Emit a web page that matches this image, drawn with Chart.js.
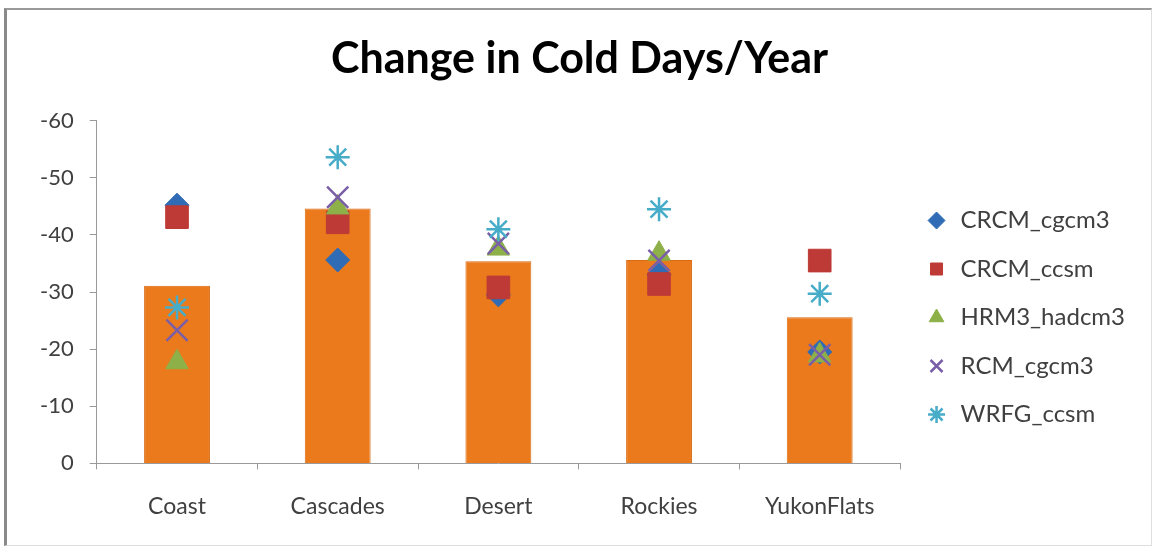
<!DOCTYPE html>
<html>
<head>
<meta charset="utf-8">
<script src="https://cdn.jsdelivr.net/npm/chart.js@4"></script>
<style>
  body { margin: 0; background: #fff; }
  #frame {
    position: absolute; left: 4px; top: 8px; width: 1144px; height: 535px;
    border-left: 3px solid #8a8a8a; border-top: 2px solid #9a9a9a;
    border-right: 1px solid #dedede; border-bottom: 1px solid #dedede;
    background: #fff;
  }
</style>
</head>
<body>
<div id="frame"><canvas id="chart"></canvas></div>
<script>
const regions = ['Coast', 'Cascades', 'Desert', 'Rockies', 'YukonFlats'];
const average = [-31.1, -44.6, -35.4, -35.6, -25.6];
const crcmCgcm3 = [-45.2, -35.6, -29.5, -33, -19.5];
const crcmCcsm = [-43.1, -42.2, -30.8, -31.4, -35.5];
const hrm3Hadcm3 = [-17.7, -44.8, -37.6, -36.7, -18.9];
const rcmCgcm3 = [-23.3, -46.6, -38.5, -35.5, -19];
const wrfgCcsm = [-27.3, -53.6, -41, -44.5, -29.7];

function marker(label, data, style, color, r, order) {
  return {
    type: 'line', label, data, showLine: false, order,
    pointStyle: style, pointRadius: r, pointHoverRadius: r,
    backgroundColor: color, borderColor: color,
    pointBorderWidth: (style === 'crossRot' || style === 'star') ? 2.5 : 1
  };
}

new Chart(document.getElementById('chart'), {
  type: 'bar',
  data: {
    labels: regions,
    datasets: [
      marker('CRCM_cgcm3', crcmCgcm3, 'rectRot', '#2f6cb5', 12, 5),
      marker('CRCM_ccsm', crcmCcsm, 'rect', '#be3a36', 16, 4),
      marker('HRM3_hadcm3', hrm3Hadcm3, 'triangle', '#8db049', 13, 3),
      marker('RCM_cgcm3', rcmCgcm3, 'crossRot', '#7a5ea8', 15, 2),
      marker('WRFG_ccsm', wrfgCcsm, 'star', '#46acc8', 12, 1),
      {
        label: 'Average', data: average, order: 6,
        backgroundColor: '#ea7a1c', borderColor: '#d96a12', borderWidth: 1,
        barPercentage: 0.41, categoryPercentage: 1
      }
    ]
  },
  options: {
    responsive: true, maintainAspectRatio: false, animation: false,
    layout: { padding: { left: 17, right: 16, top: 2, bottom: 2 } },
    plugins: {
      title: {
        display: true, text: 'Change in Cold Days/Year', color: '#000',
        font: { family: 'Lato', size: 43, weight: 'bold' },
        padding: { top: 21, bottom: 36 }
      },
      legend: {
        position: 'right',
        title: { display: true, text: ' ', font: { size: 10 }, padding: { top: 0, bottom: 68 } },
        labels: {
          usePointStyle: true, boxHeight: 12, padding: 24.5,
          color: '#404040', font: { family: 'Lato', size: 24 },
          filter: item => item.text !== 'Average',
          sort: (a, b) => a.datasetIndex - b.datasetIndex
        }
      },
      tooltip: { enabled: false }
    },
    scales: {
      x: {
        grid: { display: true, drawOnChartArea: false, offset: true, tickLength: 6, color: '#9a9a9a' },
        border: { color: '#9a9a9a' },
        ticks: { color: '#404040', font: { family: 'Lato', size: 23 }, padding: 23 }
      },
      y: {
        reverse: true, min: -60, max: 0,
        grid: { display: true, drawOnChartArea: false, tickLength: 7, color: '#9a9a9a' },
        border: { color: '#9a9a9a' },
        ticks: { stepSize: 10, color: '#404040', font: { family: 'Lato', size: 22 }, padding: 16 }
      }
    }
  }
});
</script>
</body>
</html>
